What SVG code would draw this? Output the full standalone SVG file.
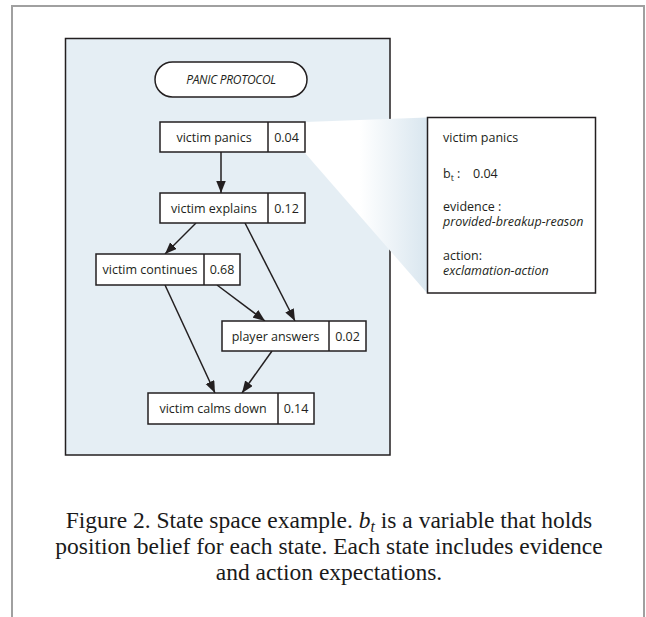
<svg xmlns="http://www.w3.org/2000/svg" width="646" height="617" viewBox="0 0 646 617">
<defs>
<marker id="ah" markerUnits="userSpaceOnUse" markerWidth="13" markerHeight="10" refX="12" refY="4.75" orient="auto">
<path d="M0,0 L12,4.75 L0,9.5 z" fill="#231f20"/>
</marker>
<linearGradient id="wedge" gradientUnits="userSpaceOnUse" x1="305" y1="0" x2="427" y2="0">
<stop offset="0" stop-color="#ffffff"/>
<stop offset="0.45" stop-color="#ffffff"/>
<stop offset="1" stop-color="#d9e6ef"/>
</linearGradient>
<style>
.box{fill:#ffffff;stroke:#231f20;stroke-width:1.5}
.lbl{font-family:"Open Sans","Noto Sans",sans-serif;font-size:12.5px;fill:#231f20}
.it{font-style:italic}
.edge{stroke:#231f20;stroke-width:1.5;fill:none;marker-end:url(#ah)}
.cap{font-family:"Liberation Serif","Times New Roman",serif;font-size:23.5px;fill:#1a1a1a}
</style>
</defs>
<rect x="0" y="0" width="646" height="617" fill="#ffffff"/>
<rect x="12" y="6" width="632" height="640" fill="none" stroke="#a0a0a0" stroke-width="2"/>
<rect id="panel" x="65.5" y="38.5" width="324.5" height="416.5" fill="#e5eef4" stroke="#231f20" stroke-width="1.5"/>
<polygon points="305,122 427,117.5 427,293 305,153" fill="url(#wedge)"/>
<g id="title">
<rect x="155" y="62" width="152" height="35" rx="17.5" class="box"/>
<text x="231" y="84" class="lbl it" text-anchor="middle" style="font-size:12px;letter-spacing:-0.3px">PANIC PROTOCOL</text>
</g>
<g id="connectors">
<line x1="221" y1="152" x2="221" y2="193" class="edge"/>
<line x1="196" y1="223" x2="165" y2="254" class="edge"/>
<line x1="245" y1="223" x2="295" y2="321" class="edge"/>
<line x1="217" y1="285" x2="265" y2="321" class="edge"/>
<line x1="165" y1="285" x2="215" y2="393" class="edge"/>
<line x1="272" y1="351" x2="242" y2="393" class="edge"/>
</g>
<g id="n-panics">
<rect x="160" y="122" width="145" height="30" class="box"/>
<line x1="268" y1="122" x2="268" y2="152" stroke="#231f20" stroke-width="1.5"/>
<text x="214" y="141.5" class="lbl" text-anchor="middle">victim panics</text>
<text x="286.5" y="141.5" class="lbl" text-anchor="middle">0.04</text>
</g>
<g id="n-explains">
<rect x="160" y="193" width="145" height="30" class="box"/>
<line x1="268" y1="193" x2="268" y2="223" stroke="#231f20" stroke-width="1.5"/>
<text x="214" y="212.5" class="lbl" text-anchor="middle">victim explains</text>
<text x="286.5" y="212.5" class="lbl" text-anchor="middle">0.12</text>
</g>
<g id="n-continues">
<rect x="96" y="254" width="144" height="31" class="box"/>
<line x1="204" y1="254" x2="204" y2="285" stroke="#231f20" stroke-width="1.5"/>
<text x="150" y="274" class="lbl" text-anchor="middle">victim continues</text>
<text x="222" y="274" class="lbl" text-anchor="middle">0.68</text>
</g>
<g id="n-answers">
<rect x="222" y="321" width="144" height="30" class="box"/>
<line x1="329" y1="321" x2="329" y2="351" stroke="#231f20" stroke-width="1.5"/>
<text x="275.5" y="340.5" class="lbl" text-anchor="middle">player answers</text>
<text x="347.5" y="340.5" class="lbl" text-anchor="middle">0.02</text>
</g>
<g id="n-calms">
<rect x="148" y="393" width="166" height="31" class="box"/>
<line x1="278" y1="393" x2="278" y2="424" stroke="#231f20" stroke-width="1.5"/>
<text x="213" y="413" class="lbl" text-anchor="middle">victim calms down</text>
<text x="296" y="413" class="lbl" text-anchor="middle">0.14</text>
</g>
<g id="callout">
<rect x="427.5" y="117.5" width="168" height="175.5" class="box"/>
<text x="443" y="142" class="lbl">victim panics</text>
<text x="443" y="178" class="lbl">b<tspan dy="3" style="font-size:9px">t</tspan><tspan dy="-3"> :</tspan></text>
<text x="473" y="178" class="lbl">0.04</text>
<text x="443" y="211" class="lbl">evidence :</text>
<text x="443" y="226" class="lbl it">provided-breakup-reason</text>
<text x="443" y="260" class="lbl">action:</text>
<text x="443" y="275" class="lbl it">exclamation-action</text>
</g>
<g id="caption">
<text x="329" y="528" class="cap" text-anchor="middle">Figure 2. State space example. <tspan font-style="italic">b</tspan><tspan font-style="italic" dy="4" style="font-size:16px">t</tspan><tspan dy="-4"> is a variable that holds</tspan></text>
<text x="329" y="554" class="cap" text-anchor="middle">position belief for each state. Each state includes evidence</text>
<text x="329" y="580" class="cap" text-anchor="middle">and action expectations.</text>
</g>
</svg>
